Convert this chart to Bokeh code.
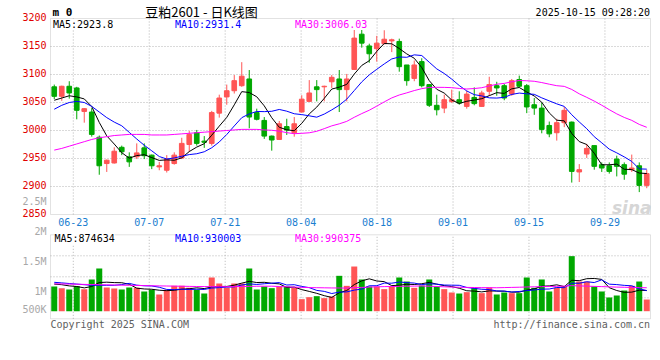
import pandas as pd
from bokeh.plotting import figure
from bokeh.models import ColumnDataSource, Range1d, Label, BoxAnnotation
from bokeh.core.properties import value
from bokeh.embed import file_html
from bokeh.resources import INLINE

# ---------------- data ----------------
trade_days = [d for d in pd.bdate_range("2025-06-18", "2025-10-15")
              if not (pd.Timestamp("2025-10-01") <= d <= pd.Timestamp("2025-10-08"))]
dates = [d.strftime("%m-%d") for d in trade_days]

opens = [3078, 3061, 3079, 3076, 3034, 3033, 2988, 2941, 2942, 2970,
         2953, 2953, 2969, 2956, 2935, 2929, 2941, 2951, 2975, 2996,
         2981, 2977, 3031, 3060, 3071, 3080, 3092, 3032, 3018, 2990,
         2984, 3007, 2996, 3033, 3052, 3078, 3078, 3087, 3092, 3073,
         3109, 3172, 3151, 3146, 3155, 3160, 3159, 3117, 3093, 3123,
         3082, 3045, 3040, 3052, 3055, 3043, 3059, 3043, 3070, 3080,
         3080, 3065, 3091, 3080, 3046, 3040, 3009, 2996, 3014, 3015,
         2926, 2958, 2973, 2939, 2937, 2949, 2939, 2930, 2937, 2902]
highs = [3082, 3080, 3088, 3078, 3040, 3040, 2991, 2948, 2970, 2973,
         2961, 2977, 2977, 2957, 2944, 2956, 2961, 2987, 2999, 3001,
         2990, 3035, 3064, 3082, 3099, 3122, 3108, 3039, 3024, 2991,
         3017, 3021, 3024, 3063, 3090, 3090, 3080, 3099, 3108, 3101,
         3191, 3188, 3155, 3169, 3179, 3164, 3164, 3117, 3125, 3129,
         3083, 3064, 3064, 3073, 3070, 3071, 3077, 3071, 3096, 3087,
         3083, 3092, 3098, 3083, 3058, 3050, 3016, 3021, 3042, 3016,
         2940, 2976, 2973, 2943, 2943, 2955, 2943, 2957, 2943, 2930]
lows = [3056, 3053, 3057, 3020, 3014, 2989, 2921, 2926, 2941, 2956,
        2935, 2949, 2949, 2931, 2929, 2925, 2939, 2949, 2962, 2973,
        2969, 2973, 3023, 3046, 3066, 3078, 3004, 3018, 2985, 2964,
        2983, 2992, 2989, 3032, 3051, 3052, 3052, 3076, 3033, 3052,
        3108, 3148, 3121, 3123, 3154, 3140, 3105, 3080, 3088, 3077,
        3042, 3027, 3031, 3049, 3046, 3039, 3045, 3042, 3062, 3062,
        3054, 3062, 3077, 3031, 3028, 2995, 2988, 2982, 3006, 2907,
        2908, 2951, 2930, 2926, 2923, 2918, 2912, 2926, 2890, 2897]
closes = [3061, 3079, 3067, 3036, 3039, 2993, 2937, 2947, 2963, 2962,
          2944, 2960, 2955, 2937, 2937, 2949, 2956, 2977, 2993, 2977,
          2979, 3032, 3058, 3071, 3089, 3097, 3024, 3020, 2990, 2983,
          3012, 3001, 3012, 3056, 3067, 3073, 3079, 3095, 3073, 3092,
          3165, 3156, 3137, 3156, 3163, 3162, 3114, 3089, 3117, 3080,
          3045, 3037, 3055, 3055, 3049, 3065, 3048, 3067, 3082, 3076,
          3058, 3089, 3079, 3042, 3040, 3002, 2994, 3014, 3036, 2927,
          2930, 2968, 2936, 2933, 2927, 2936, 2922, 2933, 2902, 2923]
ma5 = [3054, 3058, 3062, 3060, 3056.4, 3042.8, 3014.4, 2990.4, 2975.8, 2960.4,
       2950.6, 2955.2, 2956.8, 2951.6, 2946.6, 2947.6, 2946.8, 2951.2, 2962.4, 2970.4,
       2976.4, 2991.6, 3007.8, 3023.4, 3045.8, 3069.4, 3067.8, 3060.2, 3044.0, 3022.8,
       3005.8, 3001.2, 2999.6, 3012.8, 3029.6, 3041.8, 3057.4, 3074.0, 3077.4, 3082.4,
       3100.8, 3116.2, 3124.6, 3141.2, 3155.4, 3154.8, 3146.4, 3136.8, 3129.0, 3112.4,
       3089.0, 3073.6, 3066.8, 3054.4, 3048.2, 3052.2, 3054.4, 3056.8, 3062.2, 3067.6,
       3066.2, 3074.4, 3076.8, 3068.8, 3061.6, 3050.4, 3031.4, 3018.4, 3017.2, 2994.6,
       2980.2, 2975.0, 2959.4, 2938.8, 2938.8, 2940.0, 2930.8, 2930.2, 2924.0, 2923.2]
ma10 = [3038, 3045, 3050, 3052, 3050, 3043, 3033, 3023, 3015, 3008.4,
        2996.7, 2984.8, 2973.6, 2963.7, 2953.5, 2949.1, 2951.0, 2954.0, 2957.0, 2958.5,
        2962.0, 2969.2, 2979.5, 2992.9, 3008.1, 3022.9, 3029.7, 3034.0, 3033.7, 3034.3,
        3037.6, 3034.5, 3029.9, 3028.4, 3026.2, 3023.8, 3029.3, 3036.8, 3045.1, 3056.0,
        3071.3, 3086.8, 3099.3, 3109.3, 3118.9, 3127.8, 3131.3, 3130.7, 3135.1, 3133.9,
        3121.9, 3110.0, 3101.8, 3091.7, 3080.3, 3070.6, 3064.0, 3061.8, 3058.3, 3057.9,
        3059.2, 3064.4, 3066.8, 3065.5, 3064.6, 3058.3, 3052.9, 3047.6, 3043.0, 3028.1,
        3015.3, 3003.2, 2988.9, 2978.0, 2966.7, 2960.1, 2952.9, 2944.8, 2931.4, 2931.0]
ma30 = [2965, 2968, 2972, 2976, 2980, 2984, 2987, 2989, 2991, 2992,
        2993, 2993, 2993, 2992, 2992, 2992, 2993, 2994, 2995, 2996,
        2997, 2998, 2999, 3000, 3001, 3002, 3002, 3002, 3001, 3000.4,
        2998.8, 2996.2, 2994.3, 2995.0, 2995.9, 2998.6, 3003.3, 3008.3, 3011.9, 3016.3,
        3023.6, 3030.2, 3036.2, 3043.5, 3051.1, 3058.2, 3063.4, 3067.2, 3071.3, 3074.7,
        3076.9, 3077.1, 3077.0, 3076.5, 3075.1, 3074.1, 3074.9, 3076.4, 3079.5, 3082.6,
        3084.1, 3087.1, 3089.3, 3088.8, 3087.9, 3085.6, 3082.7, 3080.0, 3078.8, 3073.3,
        3065.5, 3059.2, 3052.5, 3045.1, 3037.2, 3029.7, 3023.3, 3018.1, 3010.9, 3005.7]

volumes = [1100000, 1072000, 1050000, 1106000, 1056000, 1217000, 1400000, 1083000, 1067000, 1050000,
           1083000, 1078000, 1017000, 1044000, 967000, 1044000, 1111000, 1111000, 1078000, 1044000,
           983000, 1250000, 1150000, 1078000, 1150000, 1150000, 1400000, 1050000, 1100000, 1072000,
           1100000, 1100000, 1078000, 889000, 922000, 939000, 906000, 933000, 1278000, 1111000,
           1433000, 1217000, 1100000, 1100000, 1056000, 1100000, 1250000, 1183000, 1078000, 1117000,
           1217000, 1100000, 1056000, 1000000, 983000, 1006000, 1072000, 989000, 1083000, 967000,
           1000000, 989000, 989000, 1250000, 1078000, 1217000, 1017000, 1078000, 1100000, 1606000,
           1183000, 1183000, 1100000, 1017000, 917000, 950000, 1033000, 1111000, 1183000, 883000]
vma5 = [1140000, 1130000, 1110000, 1100000, 1077000, 1100000, 1166000, 1172000, 1165000, 1163000,
        1137000, 1072000, 1059000, 1054000, 1038000, 1030000, 1037000, 1055000, 1062000, 1078000,
        1065000, 1093000, 1101000, 1101000, 1122000, 1156000, 1186000, 1166000, 1170000, 1154000,
        1144000, 1084000, 1090000, 1048000, 1018000, 986000, 947000, 918000, 996000, 1033000,
        1132000, 1194000, 1228000, 1192000, 1181000, 1115000, 1121000, 1138000, 1133000, 1146000,
        1169000, 1139000, 1114000, 1098000, 1071000, 1029000, 1023000, 1010000, 1027000, 1023000,
        1022000, 1006000, 1006000, 1039000, 1061000, 1105000, 1110000, 1128000, 1098000, 1204000,
        1197000, 1230000, 1234000, 1218000, 1080000, 1033000, 1003000, 1006000, 1039000, 1032000]
vma10 = [1170000, 1160000, 1150000, 1140000, 1130000, 1120000, 1120000, 1120000, 1120000, 1132000,
         1152000, 1122000, 1112000, 1109000, 1088000, 1051000, 1048000, 1055000, 1050000, 1054000,
         1051000, 1074000, 1082000, 1090000, 1094000, 1125000, 1144000, 1134000, 1146000, 1155000,
         1165000, 1125000, 1130000, 1101000, 1081000, 1035000, 1019000, 983000, 1007000, 1010000,
         1040000, 1056000, 1112000, 1113000, 1157000, 1155000, 1175000, 1165000, 1157000, 1131000,
         1145000, 1139000, 1124000, 1122000, 1120000, 1084000, 1069000, 1054000, 1049000, 1026000,
         1023000, 1008000, 1017000, 1031000, 1042000, 1056000, 1058000, 1084000, 1080000, 1155000,
         1154000, 1179000, 1166000, 1211000, 1139000, 1132000, 1119000, 1112000, 1060000, 1033000]
vma30 = [1145000, 1143000, 1140000, 1138000, 1135000, 1133000, 1130000, 1128000, 1125000, 1122000,
         1120000, 1118000, 1115000, 1112000, 1110000, 1108000, 1106000, 1104000, 1102000, 1100000,
         1099000, 1098000, 1097000, 1097000, 1098000, 1100000, 1102000, 1104000, 1105000, 1105000,
         1100000, 1095000, 1090000, 1085000, 1082000, 1080000, 1078000, 1076000, 1075000, 1074000,
         1080000, 1085000, 1090000, 1095000, 1098000, 1100000, 1103000, 1105000, 1107000, 1109000,
         1105000, 1100000, 1095000, 1090000, 1087000, 1085000, 1083000, 1081000, 1080000, 1079000,
         1082000, 1085000, 1088000, 1092000, 1095000, 1098000, 1100000, 1103000, 1106000, 1114000,
         1110000, 1106000, 1102000, 1098000, 1094000, 1090000, 1087000, 1084000, 1081000, 1079000]

price_ticks = [2850, 2900, 2950, 3000, 3050, 3100, 3150, 3200]
price_tick_labels = ["2850", "2900", "2950", "3000", "3050", "3100", "3150", "3200"]
vol_ticks = [500000, 1000000, 1500000, 2000000, 2500000]
vol_tick_labels = ["500K", "1M", "1.5M", "2M", "2.5M"]
date_ticks = ["06-23", "07-07", "07-21", "08-04", "08-18", "09-01", "09-15", "09-29"]

title_code = "m 0"
title_text = "豆粕2601 - 日K线图"
stamp_text = "2025-10-15 09:28:20"
price_ma_texts = ["MA5:2923.8", "MA10:2931.4", "MA30:3006.03"]
vol_ma_texts = ["MA5:874634", "MA10:930003", "MA30:990375"]
copyright_text = "Copyright 2025 SINA.COM"
url_text = "http://finance.sina.com.cn"

# ---------------- layout (picture pixels) ----------------
W, H = 652, 352
PAGE0 = 0
N = len(closes)
PANEL_L, PANEL_R = 50, 650
SLOT = (PANEL_R - PANEL_L) / N
X_START = -0.5 - (PANEL_L - PAGE0) / SLOT
X_END = X_START + W / SLOT

PRICE_TOP, PRICE_BOT = price_ticks[-1], price_ticks[0]
MAIN_TOP_PY, MAIN_BOT_PY = 18.0, 214.0
PPU = (MAIN_BOT_PY - MAIN_TOP_PY) / (PRICE_TOP - PRICE_BOT)
P_END = PRICE_TOP + (MAIN_TOP_PY - PAGE0) / PPU
P_START = P_END - H / PPU

VPU = 60.0 / 1e6           # pixels per lot
ONE_M_PY = 292.0
V_END = 1e6 + (ONE_M_PY - PAGE0) / VPU
V_START = V_END - H / VPU
VOL_TOP_PY, VOL_BOT_PY = 234.3, 318.3
VOL_BASE_PY = 310.7


def xd(px):
    return X_START + (px - PAGE0) / SLOT


def yd(py):
    return P_END - (py - PAGE0) / PPU


def vd(py):
    return V_END - (py - PAGE0) / VPU


VOL_BASE = vd(VOL_BASE_PY)
XL, XR = -0.5, N - 0.5

RED, GREEN = "#ff5555", "#00a800"
GRID = "#b4b4b4"
BORDER = "#a0a0a0"
MONO_NAME = "DejaVu Sans Mono"
MONO = value(MONO_NAME)

p = figure(width=W, height=H, output_backend="svg", toolbar_location=None,
           x_range=Range1d(X_START, X_END), y_range=Range1d(P_START, P_END),
           x_axis_location=None, y_axis_location=None, min_border=0)
p.extra_y_ranges = {"vol": Range1d(V_START, V_END)}
p.grid.visible = False
p.outline_line_color = None
p.background_fill_color = "white"
p.border_fill_color = "white"

idx = list(range(N))
colors = [RED if c >= o else GREEN for o, c in zip(opens, closes)]
src = ColumnDataSource(dict(
    x=idx, low=lows, high=highs,
    top=[max(o, c) for o, c in zip(opens, closes)],
    bottom=[min(o, c) for o, c in zip(opens, closes)],
    color=colors, vol=volumes,
    ma5=ma5, ma10=ma10, ma30=ma30, vma5=vma5, vma10=vma10, vma30=vma30))

# ---- grid lines ----
grid_x = [XL + dates.index(t) * N / (N - 1) for t in date_ticks]
inner_prices = price_ticks[1:-1]
p.segment(x0=[XL] * len(inner_prices), x1=[XR] * len(inner_prices),
          y0=inner_prices, y1=inner_prices, line_color=GRID, line_dash="1 2")
p.segment(x0=grid_x, x1=grid_x, y0=[PRICE_BOT] * len(grid_x), y1=[PRICE_TOP] * len(grid_x),
          line_color=GRID, line_dash="1 2")
vtop, vbot = vd(VOL_TOP_PY), vd(VOL_BOT_PY)
vgrid = [vbot + (vtop - vbot) * f for f in (0.25, 0.5, 0.75)]
p.segment(x0=[XL] * 3, x1=[XR] * 3, y0=vgrid, y1=vgrid, line_color=GRID,
          line_dash="1 2", y_range_name="vol")
p.segment(x0=grid_x, x1=grid_x, y0=[vbot] * len(grid_x), y1=[vtop] * len(grid_x),
          line_color=GRID, line_dash="1 2", y_range_name="vol")

# watermark
p.text(x=[xd(651)], y=[yd(207)], text=["sina"], text_align="right",
       text_baseline="alphabetic", text_font=value("DejaVu Sans"),
       text_font_style="bold italic", text_font_size="17px", text_color="#d6d6d6")

# ---- candles ----
p.segment(x0="x", y0="low", x1="x", y1="high", line_color="color", line_width=1, source=src)
p.vbar(x="x", width=0.62, top="top", bottom="bottom", fill_color="color",
       line_color="color", line_width=1, source=src)
p.line("x", "ma5", source=src, line_color="black", line_width=1)
p.line("x", "ma10", source=src, line_color="#0000ff", line_width=1)
p.line("x", "ma30", source=src, line_color="#ff00ff", line_width=1)

# ---- volume ----
p.vbar(x="x", width=0.8, top="vol", bottom=VOL_BASE, fill_color="color",
       line_color=None, y_range_name="vol", source=src)
p.line("x", "vma5", source=src, line_color="black", line_width=1, y_range_name="vol")
p.line("x", "vma10", source=src, line_color="#0000ff", line_width=1, y_range_name="vol")
p.line("x", "vma30", source=src, line_color="#ff00ff", line_width=1, y_range_name="vol")

# ---- panel borders ----
p.add_layout(BoxAnnotation(left=XL, right=XR, bottom=PRICE_BOT, top=PRICE_TOP,
                           fill_alpha=0, line_color=BORDER, line_width=1))
p.add_layout(BoxAnnotation(left=XL, right=XR, bottom=vbot, top=vtop, fill_alpha=0,
                           line_color=BORDER, line_width=1, y_range_name="vol"))

# ---- axis labels ----
raise_u = 1.4 / PPU
p.text(x=[XL] * len(price_ticks), y=[t + raise_u for t in price_ticks], text=price_tick_labels,
       x_offset=-4, text_align="right", text_baseline="middle", text_font=MONO,
       text_font_size="10px", text_color="#e00000")
vlab_y = [max(v, VOL_BASE) + 1.4 / VPU for v in vol_ticks]
p.text(x=[XL] * len(vol_ticks), y=vlab_y, text=vol_tick_labels, x_offset=-4,
       text_align="right", text_baseline="middle", text_font=MONO,
       text_font_size="10px", text_color="#a8a8a8", y_range_name="vol")
p.text(x=grid_x, y=[yd(221.7)] * len(grid_x), text=date_ticks, text_align="center",
       text_baseline="middle", text_font=MONO, text_font_size="10px", text_color="#1a7ed0")

# ---- MA legends ----
ma_colors = ["black", "#0000ff", "#ff00ff"]
for t, px, c in zip(price_ma_texts, (52.5, 174.5, 294.5), ma_colors):
    p.add_layout(Label(x=xd(px), y=yd(24.0), text=t, text_align="left", text_baseline="middle",
                       text_font=MONO_NAME, text_font_size="10px", text_color=c,
                       background_fill_color="white"))
for t, px, c in zip(vol_ma_texts, (54.0, 174.5, 294.5), ma_colors):
    p.add_layout(Label(x=xd(px), y=vd(238.3), y_range_name="vol", text=t, text_align="left",
                       text_baseline="middle", text_font=MONO_NAME, text_font_size="10px",
                       text_color=c, background_fill_color="white"))

# ---- header / footer ----
p.text(x=[xd(52)], y=[yd(11.5)], text=[title_code], text_align="left", text_baseline="middle",
       text_font=MONO, text_font_style="bold", text_font_size="11px", text_color="black")
p.text(x=[xd(201)], y=[yd(10.5)], text=[title_text], text_align="center", text_baseline="middle",
       text_font=value("Noto Sans CJK SC"), text_font_size="13px", text_color="black")
p.text(x=[xd(649.5)], y=[yd(11.5)], text=[stamp_text], text_align="right", text_baseline="middle",
       text_font=MONO, text_font_size="10px", text_color="black")
p.text(x=[xd(50)], y=[yd(324)], text=[copyright_text], text_align="left", text_baseline="middle",
       text_font=MONO, text_font_size="10px", text_color="#606060")
p.text(x=[xd(649.5)], y=[yd(324)], text=[url_text], text_align="right", text_baseline="middle",
       text_font=MONO, text_font_size="10px", text_color="#606060")

open("out.html", "w").write(file_html(p, INLINE))
